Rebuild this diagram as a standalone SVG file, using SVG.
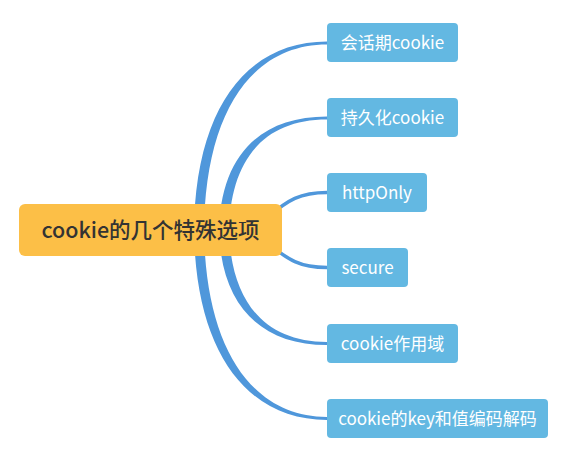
<svg xmlns="http://www.w3.org/2000/svg" width="576" height="464" viewBox="0 0 576 464">
<style>
.link{fill:#4F97DB;stroke:none}
.thin{fill:none;stroke:#4F97DB;stroke-width:3.5;stroke-linecap:round}
.child rect{fill:#63B8E2}
.child text{fill:#ffffff;font-family:"Noto Sans CJK SC","Noto Sans",sans-serif;font-size:17px;text-anchor:middle}
.root rect{fill:#FCBF47}
.root text{fill:#333333;font-family:"Noto Sans CJK SC","Noto Sans",sans-serif;font-size:21.5px;text-anchor:middle;font-weight:500}
</style>
<rect width="576" height="464" fill="#ffffff"/>
<g id="connectors">
<path class="link" d="M194 235 C194 108 247 41.5 327 41.5 L327 44.5 C252 44.5 204 112 204 235 Z"/>
<path class="link" d="M219 235 C219 158 258 116.5 327 116.5 L327 119.5 C262 119.5 229 162 229 235 Z"/>
<path class="thin" d="M268 217 C288 200 300 192.5 327 192.5"/>
<path class="thin" d="M268 243 C288 260 300 267.5 327 267.5"/>
<path class="link" d="M219 225 C219 302 258 345 327 345 L327 342 C262 342 229 298 229 225 Z"/>
<path class="link" d="M194 225 C194 352 247 420 327 420 L327 417 C252 417 204 348 204 225 Z"/>
</g>
<g id="root" class="root">
<rect x="19" y="204" width="263" height="52" rx="6"/>
<text x="150.5" y="238">cookie的几个特殊选项</text>
</g>
<g id="n1" class="child">
<rect x="327" y="23" width="131" height="39" rx="4"/>
<text x="392.5" y="49">会话期cookie</text>
</g>
<g id="n2" class="child">
<rect x="327" y="98" width="131" height="39" rx="4"/>
<text x="392.5" y="124">持久化cookie</text>
</g>
<g id="n3" class="child">
<rect x="327" y="173" width="100" height="39" rx="4"/>
<text x="377" y="199">httpOnly</text>
</g>
<g id="n4" class="child">
<rect x="327" y="248" width="81" height="39" rx="4"/>
<text x="367.5" y="274">secure</text>
</g>
<g id="n5" class="child">
<rect x="327" y="324" width="131" height="39" rx="4"/>
<text x="392.5" y="350">cookie作用域</text>
</g>
<g id="n6" class="child">
<rect x="327" y="399" width="221" height="39" rx="4"/>
<text x="437.5" y="425">cookie的key和值编码解码</text>
</g>
</svg>
